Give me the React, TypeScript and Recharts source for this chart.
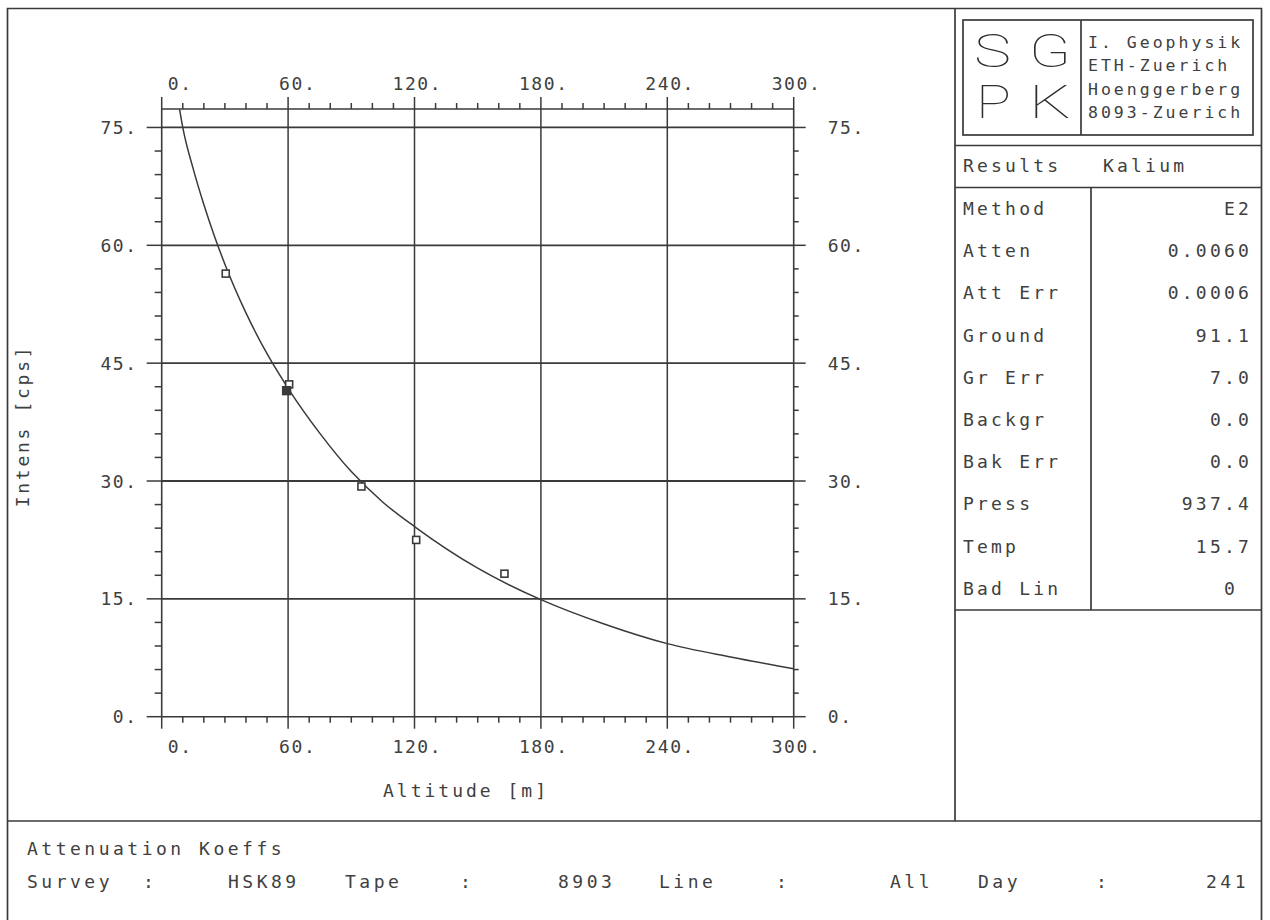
import React from 'react';
import {
  ComposedChart,
  Line,
  Scatter,
  XAxis,
  YAxis,
  ReferenceLine,
} from 'recharts';

// Fitted attenuation curve (altitude in m, intensity in cps)
const FIT_ALTITUDE = [8.5, 10, 15, 20, 25, 30, 40, 50, 60, 75, 90, 105, 120, 150, 180, 210, 240, 270, 300];
const FIT_INTENSITY = [77.3, 75.0, 69.7, 65.2, 61.2, 57.6, 51.4, 46.2, 41.8, 36.1, 31.2, 27.3, 24.2, 18.9, 14.9, 11.8, 9.3, 7.6, 6.1];

// Measured flight levels
const OBS_ALTITUDE = [30.4, 60.5, 94.8, 120.8, 162.7];
const OBS_INTENSITY = [56.4, 42.3, 29.3, 22.5, 18.2];
// overlapping measurements at the 60 m level (drawn as a dark blob)
const OBS_DENSE_ALTITUDE = [59.3];
const OBS_DENSE_INTENSITY = [41.5];

// Axis ticks
const X_TICKS = [0, 10, 20, 30, 40, 50, 60, 70, 80, 90, 100, 110, 120, 130, 140, 150, 160, 170, 180, 190, 200, 210, 220, 230, 240, 250, 260, 270, 280, 290, 300];
const X_GRID = [60, 120, 180, 240];
const Y_TICKS = [0, 3, 6, 9, 12, 15, 18, 21, 24, 27, 30, 33, 36, 39, 42, 45, 48, 51, 54, 57, 60, 63, 66, 69, 72, 75];
const Y_GRID = [15, 30, 45, 60, 75];
const X_DOMAIN: [number, number] = [0, 300];
const Y_DOMAIN: [number, number] = [0, 77.35];

// Result panel
const RESULT_LABELS = ['Method', 'Atten', 'Att Err', 'Ground', 'Gr Err', 'Backgr', 'Bak Err', 'Press', 'Temp', 'Bad Lin'];
const RESULT_VALUES = ['E2', '0.0060', '0.0006', '91.1', '7.0', '0.0', '0.0', '937.4', '15.7', '0'];
const INSTITUTE_LINES = ['I. Geophysik', 'ETH-Zuerich', 'Hoenggerberg', '8093-Zuerich'];

// Footer
const FOOTER_TITLE = 'Attenuation Koeffs';
const FOOTER_ITEMS = ['Survey', ':', 'HSK89', 'Tape', ':', '8903', 'Line', ':', 'All', 'Day', ':', '241'];

const fitData = FIT_ALTITUDE.map((h, i) => ({ h, fit: FIT_INTENSITY[i] }));
const obsData = OBS_ALTITUDE.map((h, i) => ({ h, v: OBS_INTENSITY[i] }));
const obsDenseData = OBS_DENSE_ALTITUDE.map((h, i) => ({ h, v: OBS_DENSE_INTENSITY[i] }));

const INK = '#3a3a3a';
const TEXT_INK = '#404040';
const MONO = "'DejaVu Sans Mono', 'Liberation Mono', monospace";
const tickText = { fontFamily: MONO, fontSize: 18, fill: TEXT_INK, letterSpacing: 1.6 } as const;
const panelText = { fontFamily: MONO, fontSize: 18, fill: TEXT_INK, letterSpacing: 3.2 } as const;

const labelOffset = (v: number) => {
  const n = String(v).length;
  return n === 1 ? 6 : n === 2 ? -9 : -22;
};

function TopTick(props: any) {
  const { x, y, payload } = props;
  const v = payload.value as number;
  const major = v % 60 === 0;
  return (
    <g>
      <line x1={x} y1={y} x2={x} y2={y - (major ? 12 : 6)} stroke={INK} strokeWidth={1.5} />
      {major && (
        <text x={x + labelOffset(v)} y={y - 19} {...tickText}>
          {v}.
        </text>
      )}
    </g>
  );
}

function BottomTick(props: any) {
  const { x, y, payload } = props;
  const v = payload.value as number;
  const major = v % 60 === 0;
  return (
    <g>
      <line x1={x} y1={y} x2={x} y2={y + (major ? 12 : 6)} stroke={INK} strokeWidth={1.5} />
      {major && (
        <text x={x + labelOffset(v)} y={y + 36} {...tickText}>
          {v}.
        </text>
      )}
    </g>
  );
}

function LeftTick(props: any) {
  const { x, y, payload } = props;
  const v = payload.value as number;
  const major = v % 15 === 0;
  return (
    <g>
      <line x1={x} y1={y} x2={x - (major ? 15 : 7)} y2={y} stroke={INK} strokeWidth={1.5} />
      {major && (
        <text x={x - 24} y={y + 6.5} textAnchor="end" {...tickText}>
          {v}.
        </text>
      )}
    </g>
  );
}

function RightTick(props: any) {
  const { x, y, payload } = props;
  const v = payload.value as number;
  const major = v % 15 === 0;
  return (
    <g>
      <line x1={x} y1={y} x2={x + (major ? 12 : 5)} y2={y} stroke={INK} strokeWidth={1.5} />
      {major && (
        <text x={x + 34} y={y + 6.5} {...tickText}>
          {v}.
        </text>
      )}
    </g>
  );
}

const OpenSquare = (props: any) => {
  const { cx, cy } = props;
  return <rect x={cx - 3.5} y={cy - 3.5} width={7} height={7} fill="#fff" stroke={INK} strokeWidth={1.6} />;
};

const FilledSquare = (props: any) => {
  const { cx, cy } = props;
  return <rect x={cx - 4} y={cy - 4} width={8} height={8} fill={INK} stroke={INK} strokeWidth={1.4} />;
};

// frame, institute block, results table and footer
function Sheet() {
  const rowBase = 215;
  const rowStep = 42.2;
  const footerX = [27, 143, 228, 345, 460, 558, 659, 776, 890, 978, 1096, 1249];
  return (
    <svg width={1270} height={920} style={{ position: 'absolute', left: 0, top: 0 }}>
      <g stroke={INK} strokeWidth={1.7} fill="none">
        <polyline points="7.5,935 7.5,8.5 1261.5,8.5 1261.5,935" />
        <line x1={955} y1={8.5} x2={955} y2={821} />
        <line x1={7.5} y1={821} x2={1261.5} y2={821} />
        <rect x={963} y={20} width={290} height={115} />
        <line x1={1081} y1={20} x2={1081} y2={135} />
        <line x1={955} y1={145.5} x2={1261.5} y2={145.5} />
        <line x1={955} y1={187.5} x2={1261.5} y2={187.5} />
        <line x1={1091} y1={187.5} x2={1091} y2={610} />
        <line x1={955} y1={610} x2={1261.5} y2={610} />
      </g>

      {/* SGPK monogram */}
      <g fontFamily="Roboto, 'Noto Sans', sans-serif" fontWeight={100} fontSize={47} fill="#2e2e2e">
        <text x={974} y={67} textLength={37} lengthAdjust="spacingAndGlyphs">S</text>
        <text x={1029} y={67} textLength={42} lengthAdjust="spacingAndGlyphs">G</text>
        <text x={976} y={118} textLength={35} lengthAdjust="spacingAndGlyphs">P</text>
        <text x={1029} y={118} textLength={42} lengthAdjust="spacingAndGlyphs">K</text>
      </g>
      {INSTITUTE_LINES.map((t, i) => (
        <text key={t} x={1088} y={48 + i * 23.4} fontFamily={MONO} fontSize={16.5} fill={TEXT_INK} letterSpacing={3}>
          {t}
        </text>
      ))}

      <text x={963} y={172} {...panelText}>Results</text>
      <text x={1103} y={172} {...panelText}>Kalium</text>

      {RESULT_LABELS.map((t, i) => (
        <text key={t} x={963} y={rowBase + i * rowStep} {...panelText}>
          {t}
        </text>
      ))}
      {RESULT_VALUES.map((t, i) => (
        <text
          key={RESULT_LABELS[i]}
          x={i === RESULT_VALUES.length - 1 ? 1238 : 1252}
          y={rowBase + i * rowStep}
          textAnchor="end"
          {...panelText}
        >
          {t}
        </text>
      ))}

      <text x={22} y={426} transform="rotate(-90 22 426)" textAnchor="middle" dominantBaseline="central" {...panelText} letterSpacing={2.7}>
        Intens [cps]
      </text>
      <text x={466} y={797} textAnchor="middle" {...panelText} letterSpacing={3}>
        Altitude [m]
      </text>

      <text x={27} y={855} {...panelText} letterSpacing={3.5}>{FOOTER_TITLE}</text>
      {FOOTER_ITEMS.map((t, i) => (
        <text
          key={i}
          x={footerX[i]}
          y={888}
          textAnchor={i === FOOTER_ITEMS.length - 1 ? 'end' : 'start'}
          {...panelText}
          letterSpacing={3.5}
        >
          {t}
        </text>
      ))}
    </svg>
  );
}

export default function App() {
  return (
    <div style={{ position: 'absolute', left: 0, top: 0, width: 1270, height: 920, background: '#fff', overflow: 'hidden' }}>
      <Sheet />
      <div style={{ position: 'absolute', left: 0, top: 0 }}>
        <ComposedChart
          width={1270}
          height={920}
          data={fitData}
          margin={{ top: 49, right: 376.3, bottom: 143.3, left: 61.7 }}
        >
          <XAxis
            dataKey="h"
            type="number"
            domain={X_DOMAIN}
            ticks={X_TICKS}
            interval={0}
            height={60}
            tickSize={0}
            tickMargin={0}
            tickLine={false}
            axisLine={{ stroke: INK, strokeWidth: 1.6 }}
            tick={<BottomTick />}
          />
          <XAxis
            xAxisId="top"
            orientation="top"
            dataKey="h"
            type="number"
            domain={X_DOMAIN}
            ticks={X_TICKS}
            interval={0}
            height={60}
            tickSize={0}
            tickMargin={0}
            tickLine={false}
            axisLine={{ stroke: INK, strokeWidth: 1.6 }}
            tick={<TopTick />}
          />
          <YAxis
            type="number"
            domain={Y_DOMAIN}
            ticks={Y_TICKS}
            interval={0}
            allowDataOverflow
            width={100}
            tickSize={0}
            tickMargin={0}
            tickLine={false}
            axisLine={{ stroke: INK, strokeWidth: 1.6 }}
            tick={<LeftTick />}
          />
          <YAxis
            yAxisId="right"
            orientation="right"
            type="number"
            domain={Y_DOMAIN}
            ticks={Y_TICKS}
            interval={0}
            allowDataOverflow
            width={100}
            tickSize={0}
            tickMargin={0}
            tickLine={false}
            axisLine={{ stroke: INK, strokeWidth: 1.6 }}
            tick={<RightTick />}
          />
          {Y_GRID.map((v) => (
            <ReferenceLine key={`y${v}`} y={v} stroke={INK} strokeWidth={1.8} />
          ))}
          {X_GRID.map((v) => (
            <ReferenceLine key={`x${v}`} x={v} stroke={INK} strokeWidth={1.5} />
          ))}
          <Line
            dataKey="fit"
            type="monotone"
            stroke={INK}
            strokeWidth={1.5}
            dot={false}
            activeDot={false}
            isAnimationActive={false}
          />
          <Scatter data={obsData} dataKey="v" shape={<OpenSquare />} isAnimationActive={false} />
          <Scatter data={obsDenseData} dataKey="v" shape={<FilledSquare />} isAnimationActive={false} />
        </ComposedChart>
      </div>
    </div>
  );
}
